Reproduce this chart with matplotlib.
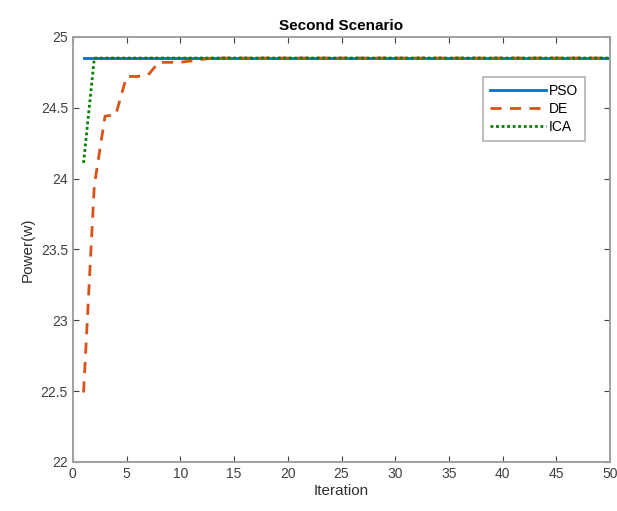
import numpy as np
import matplotlib
matplotlib.use("Agg")
import matplotlib.pyplot as plt

plt.rcParams["font.family"] = ["Liberation Sans", "DejaVu Sans"]

iterations = np.arange(1, 51)
pso = [24.85] * 50
de = [22.49, 23.95, 24.44, 24.45, 24.72, 24.72, 24.73, 24.82, 24.82, 24.82,
      24.83, 24.84] + [24.85] * 38
ica = [24.11] + [24.85] * 49

fig = plt.figure(figsize=(6.17, 5.11), dpi=100)
ax = fig.add_axes([0.118, 0.096, 0.871, 0.832])

ax.plot(iterations, pso, color="#0072BD", lw=2.0, label="PSO")
ax.plot(iterations, de, color="#D95319", lw=2.0, ls=(0, (4, 3)), label="DE")
ax.plot(iterations, ica, color="#008000", lw=2.0, ls=(0, (1, 1)), label="ICA")

ax.set_xlim(0, 50)
ax.set_ylim(22, 25)
ax.set_xticks(np.arange(0, 51, 5))
ax.set_yticks(np.arange(22, 25.01, 0.5))
ax.set_yticklabels(["22", "22.5", "23", "23.5", "24", "24.5", "25"])
ax.tick_params(direction="in", top=True, right=True, labelsize=10,
               labelcolor="#404040", color="#404040", length=4, width=0.8)
for s in ax.spines.values():
    s.set_color("#a0a0a0")
    s.set_linewidth(1.4)

ax.set_xlabel("Iteration", fontsize=11, color="#303030", labelpad=2)
ax.set_ylabel("Power(w)", fontsize=11, color="#303030", labelpad=4)
ax.set_title("Second Scenario", fontsize=11, fontweight="bold", pad=5)

leg = ax.legend(loc="upper right", bbox_to_anchor=(0.953, 0.906),
                borderaxespad=0, fancybox=False, edgecolor="#a0a0a0",
                fontsize=10, handlelength=4.0, handletextpad=0.2,
                labelspacing=0.3, borderpad=0.5)
leg.get_frame().set_linewidth(1.2)

fig.savefig("out.png", dpi=100)
